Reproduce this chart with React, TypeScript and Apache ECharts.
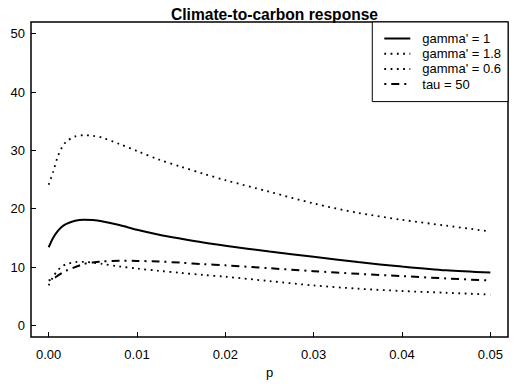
import React, { useEffect, useRef } from "react";
import * as echarts from "echarts";

const pX = [0, 0.0005, 0.001, 0.0015, 0.002, 0.003, 0.004, 0.005, 0.006, 0.008, 0.01, 0.0125, 0.015, 0.0175, 0.02, 0.025, 0.03, 0.035, 0.04, 0.045, 0.05];
const gamma1 = [13.4, 15.0, 16.1, 16.9, 17.4, 17.95, 18.1, 18.05, 17.85, 17.2, 16.4, 15.55, 14.85, 14.2, 13.65, 12.65, 11.75, 10.85, 10.1, 9.45, 9.05];
const gamma18 = [24.1, 26.3, 28.8, 30.5, 31.5, 32.4, 32.6, 32.5, 32.2, 31.1, 29.9, 28.4, 27.2, 26.0, 24.9, 22.9, 20.9, 19.3, 18.1, 17.1, 16.1];
const gamma06 = [6.85, 8.3, 9.4, 10.1, 10.5, 10.85, 10.9, 10.75, 10.55, 10.1, 9.75, 9.35, 9.0, 8.65, 8.35, 7.6, 6.85, 6.3, 5.9, 5.6, 5.3];
const tau50 = [7.7, 8.0, 8.5, 9.0, 9.4, 10.0, 10.55, 10.8, 10.95, 11.1, 11.05, 10.95, 10.75, 10.5, 10.3, 9.8, 9.3, 8.85, 8.45, 8.05, 7.7];
const xTicks = [0, 0.01, 0.02, 0.03, 0.04, 0.05];
const yTicks = [0, 10, 20, 30, 40, 50];
const seriesNames = ["gamma' = 1", "gamma' = 1.8", "gamma' = 0.6", "tau = 50"];

const FONT = "'Liberation Sans', Arial, sans-serif";

export default function App() {
  const ref = useRef<HTMLDivElement>(null);
  useEffect(() => {
    if (!ref.current) return;
    const chart = echarts.init(ref.current, null, { renderer: "svg" });
    const pairs = (ys: number[]) => pX.map((x, i) => [x, ys[i]]);
    const mk = (name: string, ys: number[], lineStyle: any) => ({
      name,
      type: "line",
      data: pairs(ys),
      showSymbol: false,
      symbol: "none",
      smooth: 0.3,
      lineStyle: { color: "#000", ...lineStyle },
      itemStyle: { color: "#000" },
    });
    chart.setOption({
      animation: false,
      backgroundColor: "#fff",
      textStyle: { fontFamily: FONT, color: "#000" },
      title: {
        text: "Climate-to-carbon response",
        left: 269.5,
        textAlign: "center",
        top: 1,
        textStyle: { fontFamily: FONT, fontSize: 15.6, fontWeight: "bold", color: "#000" },
      },
      grid: {
        left: 31,
        top: 22,
        right: 11,
        bottom: 40,
        show: true,
        borderColor: "#000",
        borderWidth: 1.5,
        backgroundColor: "transparent",
      },
      legend: {
        orient: "vertical",
        right: 11,
        top: 22,
        data: seriesNames,
        padding: [10, 7, 11, 11],
        itemGap: 2.2,
        itemWidth: 26,
        itemHeight: 12,
        borderColor: "#000",
        borderWidth: 1,
        backgroundColor: "#fff",
        borderRadius: 0,
        itemStyle: { opacity: 0 },
        textStyle: { fontFamily: FONT, fontSize: 13, color: "#000", padding: [0, 0, 0, 7] },
      },
      xAxis: {
        type: "value",
        min: -0.002,
        max: 0.052,
        name: "p",
        nameLocation: "middle",
        nameGap: 24,
        nameTextStyle: { fontFamily: FONT, fontSize: 13, color: "#000" },
        axisLine: { show: false, onZero: false },
        splitLine: { show: false },
        axisTick: { show: true, inside: true, length: 5, customValues: xTicks, lineStyle: { color: "#000", width: 1 } },
        axisLabel: {
          customValues: xTicks,
          formatter: (v: number) => v.toFixed(2),
          fontFamily: FONT,
          fontSize: 13,
          color: "#000",
          margin: 11,
        },
      },
      yAxis: {
        type: "value",
        min: -2,
        max: 52,
        axisLine: { show: false, onZero: false },
        splitLine: { show: false },
        axisTick: { show: true, inside: true, length: 5, customValues: yTicks, lineStyle: { color: "#000", width: 1 } },
        axisLabel: {
          customValues: yTicks,
          fontFamily: FONT,
          fontSize: 13,
          color: "#000",
          margin: 6,
        },
      },
      series: [
        mk(seriesNames[0], gamma1, { width: 2, type: "solid" }),
        mk(seriesNames[1], gamma18, { width: 1.8, type: [1.8, 4.5], cap: "butt" }),
        mk(seriesNames[2], gamma06, { width: 1.8, type: [1.8, 4.5], cap: "butt" }),
        mk(seriesNames[3], tau50, { width: 2, type: [2, 5, 8, 5], cap: "butt" }),
      ],
    });
    return () => chart.dispose();
  }, []);
  return <div ref={ref} style={{ width: 519, height: 384, position: "absolute", left: 0, top: 0 }} />;
}
